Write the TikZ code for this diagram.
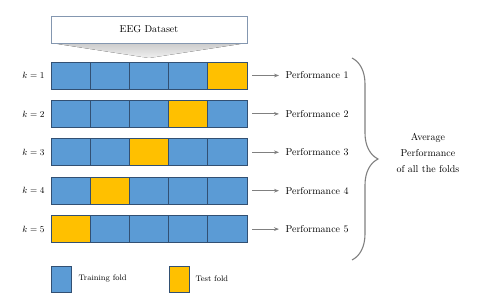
\documentclass[tikz,border=0pt]{standalone}
\usepackage{tikz}
\usepackage{amsmath}
\definecolor{foldblue}{RGB}{91, 155, 213}
\definecolor{foldyellow}{RGB}{255, 192, 0}
\definecolor{foldedge}{RGB}{50, 80, 115}
\definecolor{dataedge}{RGB}{132, 151, 176}
\usetikzlibrary{arrows.meta, positioning, decorations.pathreplacing, calc}

\begin{document}
\begin{tikzpicture}[x=1pt, y=-1pt,
                    trainfold/.style={draw=foldedge, fill=foldblue, line width=0.9pt,
                          minimum width=39.2pt, minimum height=27pt, inner sep=0pt},
                    testfold/.style={trainfold, fill=foldyellow},
                    perf/.style={anchor=west, font=\fontsize{10}{12}\selectfont},
                    arrow/.style={-{Stealth[length=5pt]}, gray, line width=0.9pt,
                          shorten <=5pt, shorten >=3pt}]
                    \useasboundingbox (0,0) rectangle (480,304);
                    % dataset box and funnel
                    \fill[top color=gray!40, bottom color=gray!12] (51,43) -- (247,43) -- (149,58) -- cycle;
                    \node[draw=dataedge, fill=white, line width=0.9pt,
                          minimum width=196pt, minimum height=27pt, inner sep=0pt,
                          font=\fontsize{10}{12}\selectfont] 
                          (data) at (149,29.5) {EEG Dataset};
                    % folds
                    \foreach \k in {1,...,5} {
                        \pgfmathsetmacro{\rowy}{75.5+(\k-1)*38.4}
                        \pgfmathtruncatemacro{\t}{6-\k}
                        \node[font=\small, anchor=east] (lab\k) at (48,\rowy) {$k=\k$};
                        \foreach \i in {1,...,5} {
                            \ifnum\i=\t \def\sty{testfold}\else\def\sty{trainfold}\fi
                            \node[\sty] (c\k\i) at ({51+(\i-0.5)*39.2},\rowy) {};
                        }
                        \node[perf] (perf\k) at (282,\rowy) {Performance \k};
                        \draw[arrow] (c\k5.east) -- (perf\k.west);
                    }
                    % brace and average
                    \coordinate (brtop) at (352,58);
                    \coordinate (brbot) at (352,260);
                    \draw[gray, line width=1.1pt, decorate,
                          decoration={brace, amplitude=26pt}] (brtop) -- (brbot);
                    \node[align=center, font=\fontsize{10}{16}\selectfont] 
                          (avg) at (428,153) {Average\\Performance\\of all the folds};
                    % legend
                    \node[trainfold, minimum width=20pt, minimum height=26pt] (legtrain) at (61,279) {};
                    \node[anchor=west, font=\fontsize{8}{10}\selectfont] (legtraintxt) at (75,279) {Training fold};
                    \node[testfold, minimum width=20pt, minimum height=26pt] (legtest) at (179,279) {};
                    \node[anchor=west, font=\fontsize{8}{10}\selectfont] (legtesttxt) at (192,279) {Test fold};
                \end{tikzpicture}
\end{document}
